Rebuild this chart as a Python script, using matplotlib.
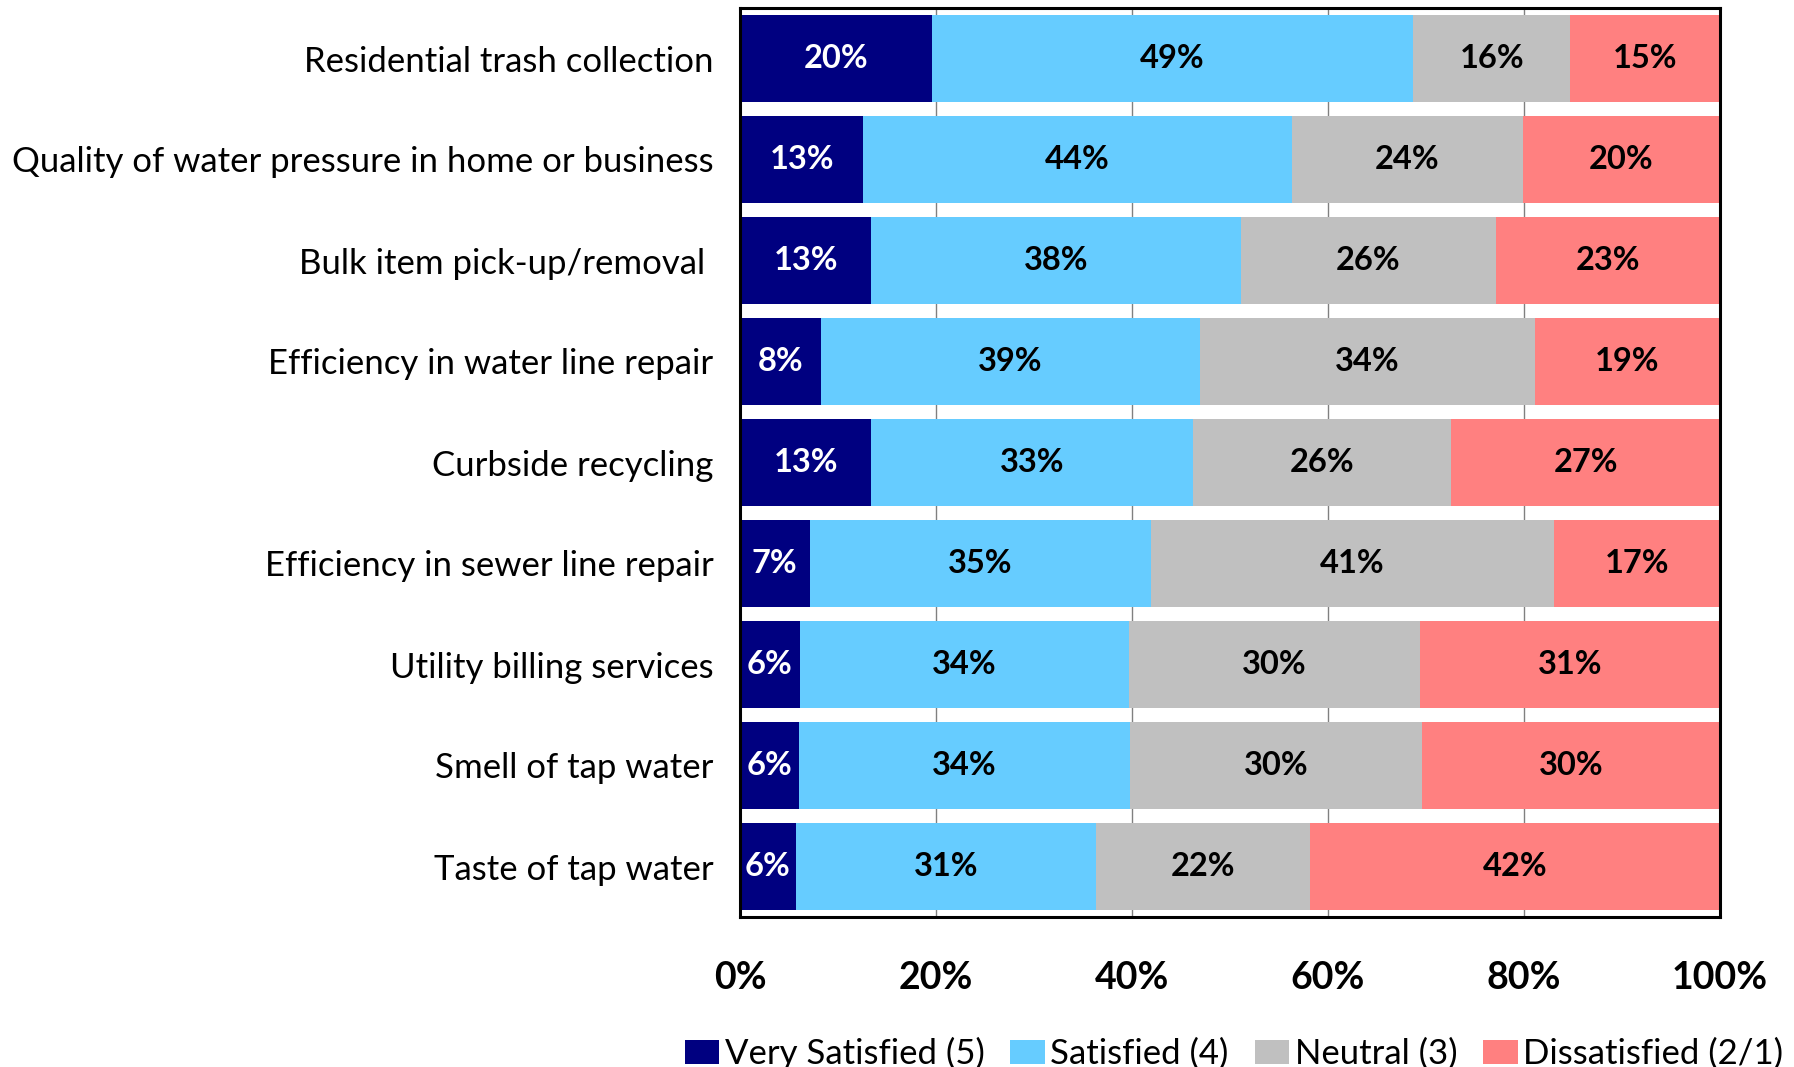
import matplotlib
matplotlib.use("Agg")
import matplotlib.pyplot as plt
import numpy as np

categories = [
    "Residential trash collection",
    "Quality of water pressure in home or business",
    "Bulk item pick-up/removal ",
    "Efficiency in water line repair",
    "Curbside recycling",
    "Efficiency in sewer line repair",
    "Utility billing services",
    "Smell of tap water",
    "Taste of tap water",
]
very_satisfied = [19.6, 12.6, 13.4, 8.3, 13.4, 7.1, 6.1, 6.0, 5.7]
satisfied      = [49.1, 43.7, 37.7, 38.6, 32.8, 34.8, 33.6, 33.8, 30.6]
neutral        = [16.0, 23.6, 26.0, 34.2, 26.4, 41.2, 29.7, 29.8, 21.9]
dissatisfied   = [15.3, 20.1, 22.9, 18.9, 27.4, 16.9, 30.6, 30.4, 41.8]

series_names = ["Very Satisfied (5)", "Satisfied (4)", "Neutral (3)", "Dissatisfied (2/1)"]
series_colors = ["#000080", "#66CCFF", "#C0C0C0", "#FF8080"]
label_colors = ["white", "black", "black", "black"]
x_ticks = [0, 20, 40, 60, 80, 100]

plt.rcParams["font.family"] = ["Lato", "DejaVu Sans"]

fig = plt.figure(figsize=(17.94, 10.67), dpi=100)
ax = fig.add_axes([740 / 1794, 1 - 917 / 1067, 980 / 1794, 909 / 1067])

y = np.arange(len(categories))
left = np.zeros(len(categories))
for name, vals, col, lc in zip(series_names,
                               [very_satisfied, satisfied, neutral, dissatisfied],
                               series_colors, label_colors):
    vals = np.array(vals)
    ax.barh(y, vals, left=left, height=0.86, color=col, label=name, zorder=2)
    for yi, l, v in zip(y, left, vals):
        ax.text(l + v / 2, yi, f"{v:.0f}%", ha="center", va="center",
                color=lc, fontsize=23.5, fontweight="bold", zorder=3)
    left += vals

ax.set_xlim(0, 100)
ax.set_ylim(len(categories) - 0.5, -0.5)
ax.set_xticks(x_ticks)
ax.set_xticklabels([f"{t}%" for t in x_ticks], fontsize=27, fontweight="bold")
ax.tick_params(axis="x", length=0, pad=32)
ax.set_yticks(y)
ax.set_yticklabels(categories, fontsize=25)
ax.tick_params(axis="y", length=0, pad=19)
ax.xaxis.grid(True, color="#808080", linewidth=1, zorder=0)
ax.set_axisbelow(True)
for sp in ax.spines.values():
    sp.set_linewidth(2.2)
    sp.set_color("black")

fig.legend(loc="lower center", bbox_to_anchor=(1234 / 1794, -0.016), ncol=4,
           frameon=False, fontsize=25, handlelength=1.0, handleheight=0.66,
           handletextpad=0.15, columnspacing=0.75, borderaxespad=0)

fig.savefig("out.png", dpi=100)
